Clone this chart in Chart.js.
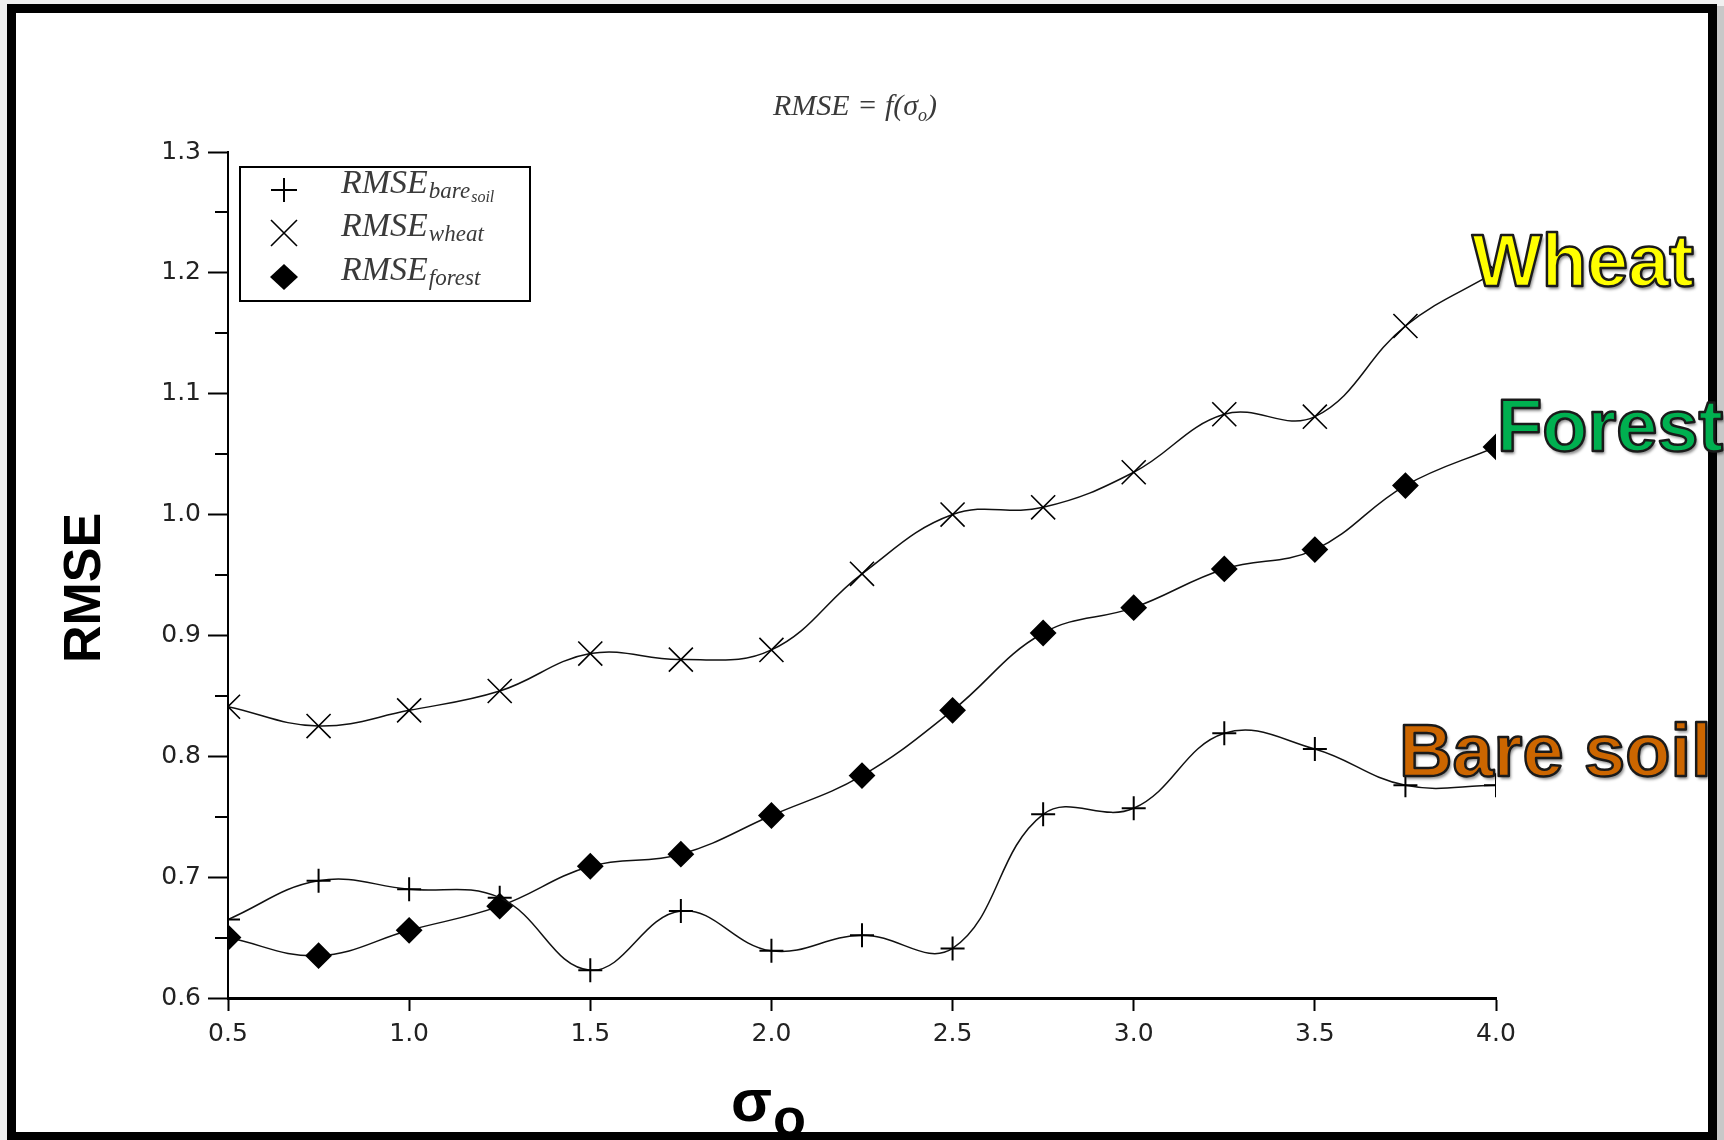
<!DOCTYPE html>
<html>
<head>
<meta charset="utf-8">
<script src="https://cdn.jsdelivr.net/npm/chart.js@4.4.1/dist/chart.umd.min.js"></script>
<style>
html,body{margin:0;padding:0;background:#f0f0f0;}
#wrap{position:absolute;left:0;top:0;width:1724px;height:1140px;}
canvas{display:block;}
</style>
</head>
<body>
<div id="wrap"><canvas id="c" width="1724" height="1140" style="width:1724px;height:1140px"></canvas></div>
<script>
// ---- data ----
const sigma = [0.5, 0.75, 1.0, 1.25, 1.5, 1.75, 2.0, 2.25, 2.5, 2.75, 3.0, 3.25, 3.5, 3.75, 4.0];
const rmseBareSoil = [0.665, 0.697, 0.690, 0.683, 0.623, 0.672, 0.639, 0.652, 0.641, 0.752, 0.757, 0.819, 0.806, 0.776, 0.776];
const rmseWheat    = [0.841, 0.825, 0.838, 0.854, 0.885, 0.880, 0.888, 0.951, 1.000, 1.006, 1.035, 1.083, 1.081, 1.156, 1.201];
const rmseForest   = [0.650, 0.635, 0.656, 0.676, 0.709, 0.719, 0.751, 0.784, 0.838, 0.902, 0.923, 0.955, 0.971, 1.024, 1.056];
const seriesLabels = ['RMSE bare soil', 'RMSE wheat', 'RMSE forest'];
const legendSubs = [['bare', 'soil'], ['wheat'], ['forest']];
const annotationLabels = ['Wheat', 'Forest', 'Bare soil'];
const xTickValues = [0.5, 1.0, 1.5, 2.0, 2.5, 3.0, 3.5, 4.0];
const xTickLabels = ['0.5', '1.0', '1.5', '2.0', '2.5', '3.0', '3.5', '4.0'];
const yTickValues = [0.6, 0.7, 0.8, 0.9, 1.0, 1.1, 1.2, 1.3];
const yTickLabels = ['0.6', '0.7', '0.8', '0.9', '1.0', '1.1', '1.2', '1.3'];
const yMinorTicks = [0.65, 0.75, 0.85, 0.95, 1.05, 1.15, 1.25];
const chartTitle = ['RMSE = f(σ', 'o', ')'];
const yAxisTitle = 'RMSE';
const xAxisTitle = ['σ', 'o'];

const W = 1724, H = 1140;
const toPts = arr => sigma.map((x, i) => ({x: x, y: arr[i]}));

const decor = {
  id: 'decor',
  beforeDraw(chart) {
    const ctx = chart.ctx;
    ctx.save();
    ctx.fillStyle = '#f0f0f0';
    ctx.fillRect(0, 0, W, H);
    ctx.fillStyle = '#c8c8c8';
    ctx.fillRect(1717, 6, 7, H);
    ctx.fillStyle = '#ffffff';
    ctx.fillRect(11, 8, 1702, H);
    ctx.restore();
  },
  afterDraw(chart) {
    const ctx = chart.ctx;
    const ys = chart.scales.y;
    const area = chart.chartArea;
    ctx.save();
    // minor y ticks
    ctx.strokeStyle = '#000';
    ctx.lineWidth = 2;
    yMinorTicks.forEach(v => {
      const py = Math.round(ys.getPixelForValue(v));
      ctx.beginPath();
      ctx.moveTo(area.left - 13, py);
      ctx.lineTo(area.left, py);
      ctx.stroke();
    });

    // title
    ctx.fillStyle = '#3a3a3a';
    ctx.textBaseline = 'alphabetic';
    ctx.textAlign = 'left';
    const tf1 = 'italic 30px "Liberation Serif", "DejaVu Serif", serif';
    const tf2 = 'italic 18px "Liberation Serif", "DejaVu Serif", serif';
    ctx.font = tf1; const w1 = ctx.measureText(chartTitle[0]).width;
    ctx.font = tf2; const w2 = ctx.measureText(chartTitle[1]).width;
    ctx.font = tf1; const w3 = ctx.measureText(chartTitle[2]).width;
    let tx = 855 - (w1 + w2 + w3) / 2;
    const tyb = 115;
    ctx.font = tf1; ctx.fillText(chartTitle[0], tx, tyb); tx += w1;
    ctx.font = tf2; ctx.fillText(chartTitle[1], tx, tyb + 6); tx += w2;
    ctx.font = tf1; ctx.fillText(chartTitle[2], tx, tyb);

    // legend box
    ctx.strokeStyle = '#000';
    ctx.lineWidth = 2;
    ctx.strokeRect(240, 167, 290, 134);
    const rowsY = [190, 233, 277];
    const mx = 284;
    ctx.lineWidth = 2;
    ctx.beginPath();
    ctx.moveTo(mx - 13, rowsY[0]); ctx.lineTo(mx + 13, rowsY[0]);
    ctx.moveTo(mx, rowsY[0] - 12); ctx.lineTo(mx, rowsY[0] + 12);
    ctx.stroke();
    ctx.lineWidth = 1.6;
    ctx.beginPath();
    ctx.moveTo(mx - 13, rowsY[1] - 13); ctx.lineTo(mx + 13, rowsY[1] + 13);
    ctx.moveTo(mx - 13, rowsY[1] + 13); ctx.lineTo(mx + 13, rowsY[1] - 13);
    ctx.stroke();
    ctx.fillStyle = '#000';
    ctx.beginPath();
    ctx.moveTo(mx, rowsY[2] - 13); ctx.lineTo(mx + 14, rowsY[2]);
    ctx.lineTo(mx, rowsY[2] + 13); ctx.lineTo(mx - 14, rowsY[2]);
    ctx.closePath(); ctx.fill();
    ctx.fillStyle = '#3a3a3a';
    const lf1 = 'italic 34px "Liberation Serif", "DejaVu Serif", serif';
    const lf2 = 'italic 23px "Liberation Serif", "DejaVu Serif", serif';
    const lf3 = 'italic 16px "Liberation Serif", "DejaVu Serif", serif';
    legendSubs.forEach((subs, i) => {
      let x = 341;
      const yb = rowsY[i] + 3;
      ctx.font = lf1; ctx.fillText('RMSE', x, yb); x += ctx.measureText('RMSE').width + 1;
      ctx.font = lf2; ctx.fillText(subs[0], x, yb + 5); x += ctx.measureText(subs[0]).width + 1;
      if (subs[1]) { ctx.font = lf3; ctx.fillText(subs[1], x, yb + 9); }
    });

    // y axis title
    ctx.save();
    ctx.fillStyle = '#000';
    ctx.font = 'bold 52px "Liberation Sans", Arial, sans-serif';
    ctx.translate(100, 588);
    ctx.rotate(-Math.PI / 2);
    ctx.textAlign = 'center';
    ctx.fillText(yAxisTitle, 0, 0);
    ctx.restore();

    // x axis title
    ctx.fillStyle = '#000';
    ctx.textAlign = 'left';
    ctx.font = 'bold 60px "Liberation Sans", "DejaVu Sans", sans-serif';
    ctx.fillText(xAxisTitle[0], 731, 1121);
    const sw = ctx.measureText(xAxisTitle[0]).width;
    ctx.font = 'bold 54px "Liberation Sans", "DejaVu Sans", sans-serif';
    ctx.fillText(xAxisTitle[1], 731 + sw + 1, 1136);

    // frame border
    ctx.strokeStyle = '#000';
    ctx.lineWidth = 9;
    ctx.strokeRect(11.5, 8.5, 1701, 1128);

    // annotations
    const ann = [
      {t: annotationLabels[0], x: 1472, y: 286, c: '#FFFF00'},
      {t: annotationLabels[1], x: 1497, y: 451, c: '#00B050'},
      {t: annotationLabels[2], x: 1399, y: 776, c: '#CC6600'}
    ];
    ctx.font = 'bold 74px "Liberation Sans", Arial, sans-serif';
    ctx.textAlign = 'left';
    ann.forEach(a => {
      ctx.save();
      ctx.shadowColor = 'rgba(0,0,0,0.45)';
      ctx.shadowOffsetX = 2; ctx.shadowOffsetY = 3; ctx.shadowBlur = 3;
      ctx.fillStyle = a.c;
      ctx.fillText(a.t, a.x, a.y);
      ctx.restore();
      ctx.lineWidth = 2.5;
      ctx.lineJoin = 'round';
      ctx.strokeStyle = '#1a1a1a';
      ctx.strokeText(a.t, a.x, a.y);
    });
    ctx.restore();
  }
};

const lineCommon = {
  borderColor: '#111',
  borderWidth: 1.5,
  tension: 0.4,
  fill: false,
  pointBorderColor: '#000',
  pointBackgroundColor: '#000',
  pointBorderWidth: 2,
  clip: 0
};

new Chart(document.getElementById('c'), {
  type: 'line',
  data: {
    datasets: [
      Object.assign({label: seriesLabels[0], data: toPts(rmseBareSoil), pointStyle: 'cross', pointRadius: 12}, lineCommon),
      Object.assign({label: seriesLabels[1], data: toPts(rmseWheat), pointStyle: 'crossRot', pointRadius: 17}, lineCommon, {pointBorderWidth: 1.6}),
      Object.assign({label: seriesLabels[2], data: toPts(rmseForest), pointStyle: 'rectRot', pointRadius: 12}, lineCommon)
    ]
  },
  options: {
    responsive: false,
    animation: false,
    devicePixelRatio: 1,
    layout: {padding: {top: 152, right: 228, bottom: 0, left: 0}},
    plugins: {legend: {display: false}, title: {display: false}, tooltip: {enabled: false}},
    scales: {
      x: {
        type: 'linear', min: 0.5, max: 4.0,
        afterBuildTicks: s => { s.ticks = xTickValues.map(v => ({value: v})); },
        afterFit: s => { s.height = 142; },
        ticks: {
          callback: (v, i) => xTickLabels[i],
          font: {family: '"DejaVu Sans", sans-serif', size: 25},
          color: '#222', padding: 8, maxRotation: 0, autoSkip: false
        },
        grid: {display: true, drawOnChartArea: false, drawTicks: true, tickLength: 13, tickWidth: 2, tickColor: '#000'},
        border: {display: true, color: '#000', width: 3}
      },
      y: {
        type: 'linear', min: 0.6, max: 1.3,
        afterBuildTicks: s => { s.ticks = yTickValues.map(v => ({value: v})); },
        afterFit: s => { s.width = 228; },
        ticks: {
          callback: (v, i) => yTickLabels[i],
          font: {family: '"DejaVu Sans", sans-serif', size: 25},
          color: '#222', padding: 7, autoSkip: false
        },
        grid: {display: true, drawOnChartArea: false, drawTicks: true, tickLength: 20, tickWidth: 2, tickColor: '#000'},
        border: {display: true, color: '#000', width: 2}
      }
    }
  },
  plugins: [decor]
});
</script>
</body>
</html>
